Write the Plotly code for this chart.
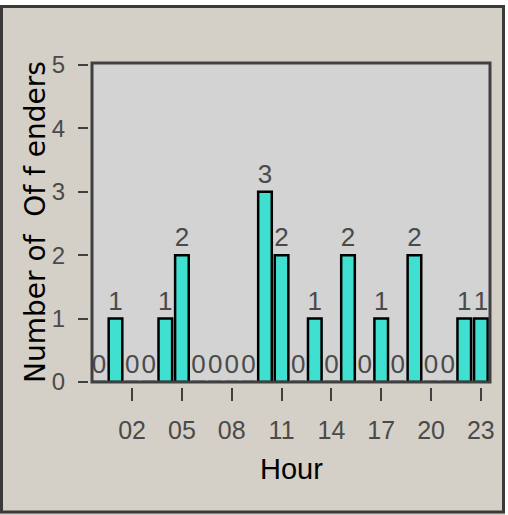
import plotly.graph_objects as go

hours = list(range(24))
counts = [0, 1, 0, 0, 1, 2, 0, 0, 0, 0, 3, 2, 0, 1, 0, 2, 0, 1, 0, 2, 0, 0, 1, 1]
x_tickvals = [2, 5, 8, 11, 14, 17, 20, 23]
x_ticktext = ["02", "05", "08", "11", "14", "17", "20", "23"]
y_tickvals = [0, 1, 2, 3, 4, 5]
y_ticktext = ["0", "1", "2", "3", "4", "5"]
x_title = "Hour"
y_title = "Number of  Of f enders"

W, H = 508, 515
L, R, T, B = 88, 18, 63, 128
PW, PH = W - L - R, H - T - B

def px_x(px):
    return (px - L) / PW

def px_y(py):
    return (H - B - py) / PH

SANS = "Liberation Sans Narrow, Liberation Sans, Arial, sans-serif"
TXT = "#4a4a4a"

fig = go.Figure()
fig.add_trace(go.Bar(
    x=hours, y=counts, width=0.82,
    marker=dict(color="#40e0d0", line=dict(color="black", width=2.5)),
    text=[str(c) for c in counts], textposition="outside",
    constraintext="none",
    textfont=dict(family=SANS, size=26, color=TXT),
    cliponaxis=False,
    hoverinfo="skip",
))

fig.update_layout(
    width=W, height=H,
    margin=dict(l=L, r=R, t=T, b=B, pad=0),
    paper_bgcolor="#d4d0c8",
    plot_bgcolor="#d3d3d3",
    showlegend=False,
    bargap=0,
    xaxis=dict(
        domain=[px_x(92), 1], range=[-0.415, 23.55],
        anchor="free", position=0,
        tickvals=x_tickvals, ticktext=x_ticktext,
        ticks="outside", ticklen=13, tickwidth=2, tickcolor="#404040",
        tickfont=dict(family=SANS, size=25, color=TXT),
        ticklabelstandoff=8,
        showgrid=False, zeroline=False, showline=False,
    ),
    yaxis=dict(
        domain=[px_y(382), 1], range=[0, 5.03],
        anchor="free", position=0,
        tickvals=y_tickvals, ticktext=y_ticktext,
        ticks="outside", ticklen=10, tickwidth=2, tickcolor="#404040",
        tickfont=dict(family=SANS, size=24, color=TXT),
        ticklabelstandoff=8,
        showgrid=False, zeroline=False, showline=False,
    ),
    shapes=[
        dict(type="rect", xref="x domain", yref="y domain", x0=0, x1=1, y0=0, y1=1,
             line=dict(color="#404040", width=3), layer="above"),
        dict(type="rect", xref="paper", yref="paper", x0=px_x(-5), x1=px_x(W + 5),
             y0=px_y(5), y1=px_y(-5), fillcolor="white", line=dict(width=0), layer="above"),
        dict(type="rect", xref="paper", yref="paper", x0=px_x(505), x1=px_x(W + 5),
             y0=px_y(H + 5), y1=px_y(-5), fillcolor="white", line=dict(width=0), layer="above"),
        dict(type="rect", xref="paper", yref="paper", x0=px_x(1.5), x1=px_x(503.5),
             y0=px_y(512), y1=px_y(6.5), line=dict(color="#3a3a3a", width=3), layer="above"),
    ],
    annotations=[
        dict(text=y_title, xref="paper", yref="paper", x=px_x(35), y=px_y(222),
             textangle=-90, showarrow=False, xanchor="center", yanchor="middle",
             font=dict(family="DejaVu Sans", size=28, color="black")),
        dict(text=x_title, xref="paper", yref="paper", x=px_x(291), y=px_y(469),
             showarrow=False, xanchor="center", yanchor="middle",
             font=dict(family=SANS, size=29, color="black")),
    ],
)

fig.write_html("out.html", config={"displayModeBar": False, "staticPlot": True},
               post_script="document.body.style.margin='0';")
